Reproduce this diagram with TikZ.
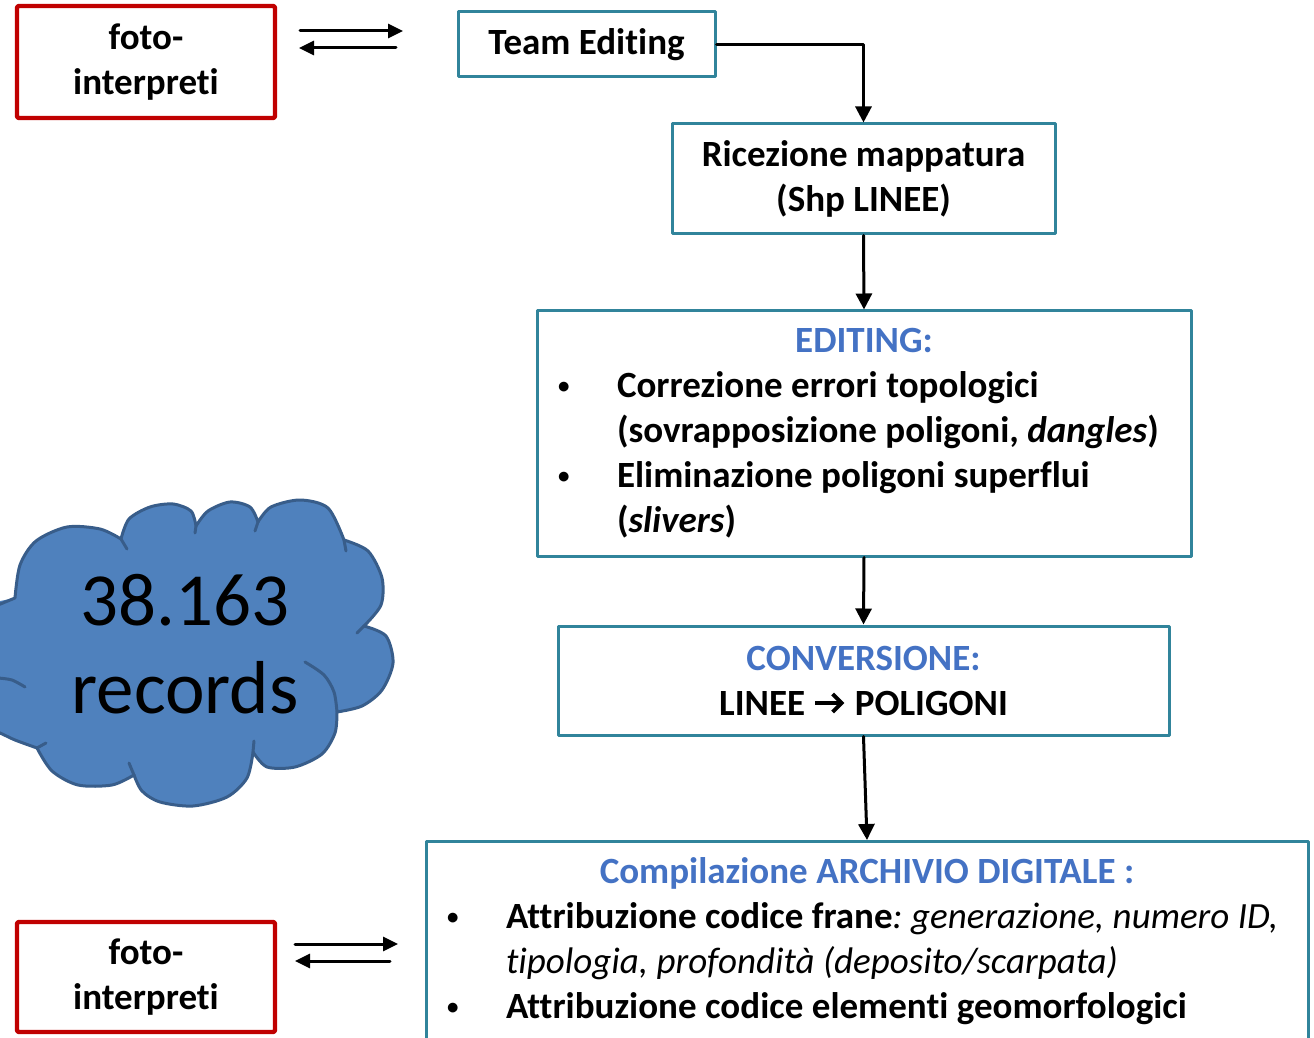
\documentclass[tikz,border=0pt]{standalone}
\usepackage{fontspec}
\usepackage{graphicx}
\setmainfont{Carlito}[Ligatures={NoCommon,NoRare}]
\usetikzlibrary{arrows.meta}
\frenchspacing

\definecolor{bordoteal}{HTML}{31849B}
\definecolor{bordorosso}{HTML}{C00000}
\definecolor{titblu}{HTML}{4472C4}
\definecolor{nuvolablu}{HTML}{4F81BD}
\definecolor{nuvolabordo}{HTML}{385D8A}

% righe degli elenchi puntati
\newcommand{\pallino}{\raisebox{0.12em}{\scalebox{0.62}{•}}}
\newcommand{\voce}[1]{\par\noindent\hspace*{10.5pt}\makebox[29.5pt][l]{\pallino}#1}
\newcommand{\riga}[1]{\par\noindent\hspace*{40pt}#1}
% freccetta nel testo
\newcommand{\versoa}{\tikz[baseline={(0pt,-6pt)}]
  \draw[line width=2pt, line cap=butt, -{Straight Barb[length=4.5pt,width=9pt,line width=2pt]}]
  (0pt,0pt) -- (14.5pt,0pt);}

\begin{document}
\begin{tikzpicture}[x=0.5pt, y=-0.5pt, line cap=round, line join=round,
    font=\fontsize{18.5pt}{22.5pt}\selectfont\bfseries]
  \tikzset{box/.style={draw=bordoteal, line width=1.5pt, align=center, inner sep=0pt},
    fotobox/.style={draw=bordorosso, line width=2.2pt, rounded corners=1pt, align=center,
      minimum width=129pt, minimum height=56pt},
    listbox/.style={draw=bordoteal, line width=1.5pt, inner sep=0pt, align=left,
      execute at begin node={\spaceskip=0.23em\relax}},
    freccia/.style={line width=1.5pt, -{Triangle[length=8pt,width=8pt]}},
    scambio/.style={line width=1.5pt, -{Triangle[length=7.5pt,width=7pt]}},
    nuvola/.style={draw=nuvolabordo, line width=1.5pt}}
  \useasboundingbox (0,0) rectangle (1314,1038);

  % nuvola: un arco per ogni sbuffo, con i ricciolini interni
  \fill[nuvolablu] (15,598)
    plot[smooth] coordinates {(15,598) (20,565) (36,541) (67,527) (100,529) (121,539)}
    -- plot[smooth] coordinates {(121,539) (129,519) (150,507) (173,504) (191,511) (196,526)}
    -- plot[smooth] coordinates {(196,526) (208,511) (230,502) (250,507) (258,522)}
    -- plot[smooth] coordinates {(258,522) (271,507) (300,500) (328,508) (344,540)}
    -- plot[smooth] coordinates {(344,540) (368,551) (382,578) (381,605) (364,626)}
    -- plot[smooth] coordinates {(364,626) (386,636) (393,663) (382,690) (362,706) (337,712)}
    -- plot[smooth] coordinates {(337,712) (335,733) (322,754) (295,767) (267,767) (253,752)}
    -- plot[smooth] coordinates {(253,752) (247,778) (227,797) (193,806) (160,802) (142,791) (134,775)}
    -- plot[smooth] coordinates {(134,775) (112,785) (78,785) (52,771) (37,748)}
    -- plot[smooth] coordinates {(37,748) (15,740) (0,733) (-20,725)}
    -- (-20,605) -- cycle;
  \draw[nuvola] (-2,605) -- (15,598)
    plot[smooth] coordinates {(15,598) (20,565) (36,541) (67,527) (100,529) (121,539)}
    plot[smooth] coordinates {(121,539) (129,519) (150,507) (173,504) (191,511) (196,526)}
    plot[smooth] coordinates {(196,526) (208,511) (230,502) (250,507) (258,522)}
    plot[smooth] coordinates {(258,522) (271,507) (300,500) (328,508) (344,540)}
    plot[smooth] coordinates {(344,540) (368,551) (382,578) (381,605) (364,626)}
    plot[smooth] coordinates {(364,626) (386,636) (393,663) (382,690) (362,706) (337,712)}
    plot[smooth] coordinates {(337,712) (335,733) (322,754) (295,767) (267,767) (253,752)}
    plot[smooth] coordinates {(253,752) (247,778) (227,797) (193,806) (160,802) (142,791) (134,775)}
    plot[smooth] coordinates {(134,775) (112,785) (78,785) (52,771) (37,748)}
    plot[smooth] coordinates {(37,748) (15,740) (0,733) (-20,725)};
  \draw[nuvola] (121,539) -- (127,549);
  \draw[nuvola] (196,526) -- (195,533);
  \draw[nuvola] (258,522) -- (255,531);
  \draw[nuvola] (344,540) -- (346,551);
  \draw[nuvola] (364,626) -- (357,633);
  \draw[nuvola] plot[smooth] coordinates {(337,712) (334,692) (324,675) (305,662)};
  \draw[nuvola] (253,752) -- (254,741);
  \draw[nuvola] (134,775) -- (129,763);
  \draw[nuvola] (37,748) -- (46,743);
  \draw[nuvola] plot[smooth] coordinates {(-2,678) (12,680) (25,687)};
  \node[align=center, inner sep=0pt, font=\fontsize{37.5pt}{44pt}\selectfont] (nuvola) at (185,644)
    {38.163\\records};

  \node[fotobox] (foto1) at (146,62) {foto-\\interpreti};
  \node[fotobox, minimum height=55pt] (foto2) at (146,977) {foto-\\interpreti};

  \node[box, minimum width=128.5pt, minimum height=32.5pt] (team) at (586.5,44.5) {Team Editing};
  \node[box, minimum width=191.5pt, minimum height=55pt] (ricez) at (863.5,179)
    {Ricezione mappatura\\(Shp LINEE)};
  \node[listbox, text width=327pt, minimum height=122.5pt] (editing) at (864,433.5) {%
    {\centering\color{titblu}EDITING:\par}
    \voce{Correzione errori topologici}
    \riga{(sovrapposizione poligoni, \textit{dangles})}
    \voce{Eliminazione poligoni superflui}
    \riga{(\textit{slivers})}};
  \node[box, minimum width=305.5pt, minimum height=54.5pt] (conv) at (863.5,680.5)
    {\textcolor{titblu}{CONVERSIONE:}\\LINEE \versoa{} POLIGONI};
  \node[listbox, text width=441pt, anchor=north, inner ysep=8pt] (compil) at (867,840) {%
    {\centering\color{titblu}Compilazione ARCHIVIO DIGITALE :\par}
    \voce{Attribuzione codice frane{\mdseries\itshape: generazione, numero ID,}}
    \riga{{\mdseries\itshape tipologia, profondità (deposito/scarpata)}}
    \voce{Attribuzione codice elementi geomorfologici}
    \par\vspace*{14pt}};

  % flusso principale
  \draw[freccia] (team.east) -| (ricez.north);
  \draw[freccia] (ricez.south) -- (editing.north);
  \draw[freccia] (editing.south) -- (conv.north);
  \draw[freccia] (conv.south) -- (compil.north);

  % scambi con i foto-interpreti
  \coordinate (s1a) at (300,31);  \coordinate (s1b) at (403,31);
  \coordinate (s1c) at (396,48);  \coordinate (s1d) at (299,48);
  \coordinate (s2a) at (295,944); \coordinate (s2b) at (398,944);
  \coordinate (s2c) at (390,961); \coordinate (s2d) at (295,961);
  \draw[scambio] (s1a) -- (s1b);
  \draw[scambio] (s1c) -- (s1d);
  \draw[scambio] (s2a) -- (s2b);
  \draw[scambio] (s2c) -- (s2d);
\end{tikzpicture}
\end{document}
